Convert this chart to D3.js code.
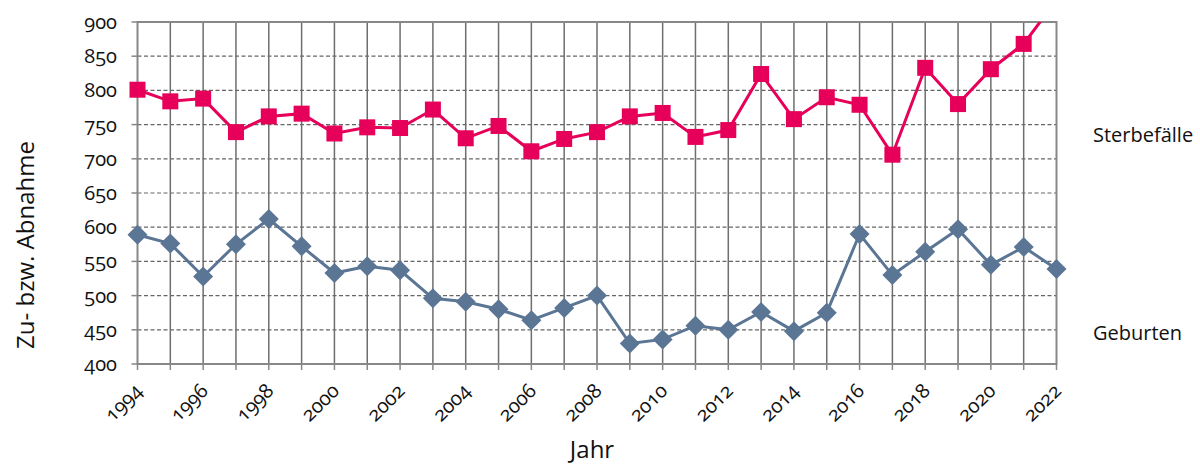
<!DOCTYPE html>
<html>
<head>
<meta charset="utf-8">
<script src="https://cdn.jsdelivr.net/npm/d3@7"></script>
<style>
  body { margin: 0; background: #fff; }
  svg text { font-family: "Open Sans", "Noto Sans", sans-serif; fill: #111; }
  .num { font-feature-settings: "onum" 1; }
</style>
</head>
<body>
<svg id="chart" width="1200" height="466"></svg>
<script>
const years = d3.range(1994, 2023);
const sterbefaelle = [801, 784, 788, 739, 762, 766, 737, 746, 745, 772, 730, 748, 711, 729, 739,
  762, 767, 732, 742, 824, 758, 790, 779, 706, 833, 780, 831, 868, 932];
const geburten = [589, 576, 528, 575, 612, 572, 533, 543, 537, 496, 491, 480, 464, 482, 500,
  430, 436, 456, 450, 476, 448, 475, 590, 530, 564, 597, 545, 571, 539];
const yTicks = d3.range(400, 901, 50);
const xTickLabels = years.filter(y => y % 2 === 0);

const svg = d3.select('#chart');
const margin = { top: 22, left: 137.5, right: 1056.5, bottom: 364 };

const x = d3.scaleLinear().domain([1994, 2022]).range([margin.left, margin.right]);
const y = d3.scaleLinear().domain([400, 900]).range([margin.bottom, margin.top]);

svg.append('defs').append('clipPath').attr('id', 'plot')
  .append('rect')
  .attr('x', margin.left - 20).attr('y', margin.top)
  .attr('width', margin.right - margin.left + 40).attr('height', margin.bottom - margin.top + 20);

// horizontal dashed grid
svg.append('g')
  .selectAll('line')
  .data(yTicks.filter(v => v > 400 && v < 900))
  .join('line')
  .attr('x1', margin.left).attr('x2', margin.right)
  .attr('y1', d => y(d)).attr('y2', d => y(d))
  .attr('stroke', '#666').attr('stroke-width', 1.2)
  .attr('stroke-dasharray', '4,2.5');

// vertical grid
svg.append('g')
  .selectAll('line')
  .data(years.slice(1, -1))
  .join('line')
  .attr('x1', d => x(d)).attr('x2', d => x(d))
  .attr('y1', margin.top).attr('y2', margin.bottom)
  .attr('stroke', '#6e6e6e').attr('stroke-width', 1.5);

// plot border / axes
svg.append('rect')
  .attr('x', margin.left).attr('y', margin.top)
  .attr('width', margin.right - margin.left).attr('height', margin.bottom - margin.top)
  .attr('fill', 'none').attr('stroke', '#888').attr('stroke-width', 2);

// tick marks
svg.append('g')
  .selectAll('line')
  .data(years)
  .join('line')
  .attr('x1', d => x(d)).attr('x2', d => x(d))
  .attr('y1', margin.bottom).attr('y2', margin.bottom + 6)
  .attr('stroke', '#888').attr('stroke-width', 1.5);

svg.append('g')
  .selectAll('line')
  .data(yTicks)
  .join('line')
  .attr('x1', margin.left - 6).attr('x2', margin.left)
  .attr('y1', d => y(d)).attr('y2', d => y(d))
  .attr('stroke', '#888').attr('stroke-width', 1.5);

// y tick labels
svg.append('g')
  .selectAll('text')
  .data(yTicks)
  .join('text')
  .attr('class', 'num')
  .attr('x', 117).attr('y', d => y(d))
  .attr('dy', '0.35em')
  .attr('text-anchor', 'end')
  .attr('font-size', 20)
  .text(d => d);

// x tick labels
svg.append('g')
  .selectAll('text')
  .data(xTickLabels)
  .join('text')
  .attr('class', 'num')
  .attr('transform', d => `translate(${x(d) + 6},${margin.bottom + 28}) rotate(-45)`)
  .attr('text-anchor', 'end')
  .attr('font-size', 20)
  .text(d => d);

// axis titles
svg.append('text')
  .attr('x', 592).attr('y', 458)
  .attr('text-anchor', 'middle')
  .attr('font-size', 24)
  .text('Jahr');

svg.append('text')
  .attr('transform', 'translate(34,245) rotate(-90)')
  .attr('text-anchor', 'middle')
  .attr('font-size', 24)
  .text('Zu- bzw. Abnahme');

// series
const line = d3.line().x((d, i) => x(years[i])).y(d => y(d));
const plot = svg.append('g').attr('clip-path', 'url(#plot)');

const pink = '#e6005a';
const blue = '#5b7594';

plot.append('path')
  .datum(sterbefaelle)
  .attr('d', line)
  .attr('fill', 'none').attr('stroke', pink).attr('stroke-width', 3);

plot.append('g')
  .selectAll('rect')
  .data(sterbefaelle)
  .join('rect')
  .attr('x', (d, i) => x(years[i]) - 8)
  .attr('y', d => y(d) - 8)
  .attr('width', 16).attr('height', 16)
  .attr('fill', pink);

plot.append('path')
  .datum(geburten)
  .attr('d', line)
  .attr('fill', 'none').attr('stroke', blue).attr('stroke-width', 3);

plot.append('g')
  .selectAll('path')
  .data(geburten)
  .join('path')
  .attr('d', d3.symbol(d3.symbolSquare, 200))
  .attr('transform', (d, i) => `translate(${x(years[i])},${y(d)}) rotate(45)`)
  .attr('fill', blue);

// series labels
svg.append('text')
  .attr('x', 1093).attr('y', 142)
  .attr('font-size', 20)
  .text('Sterbefälle');

svg.append('text')
  .attr('x', 1093).attr('y', 340)
  .attr('font-size', 20)
  .text('Geburten');
</script>
</body>
</html>
